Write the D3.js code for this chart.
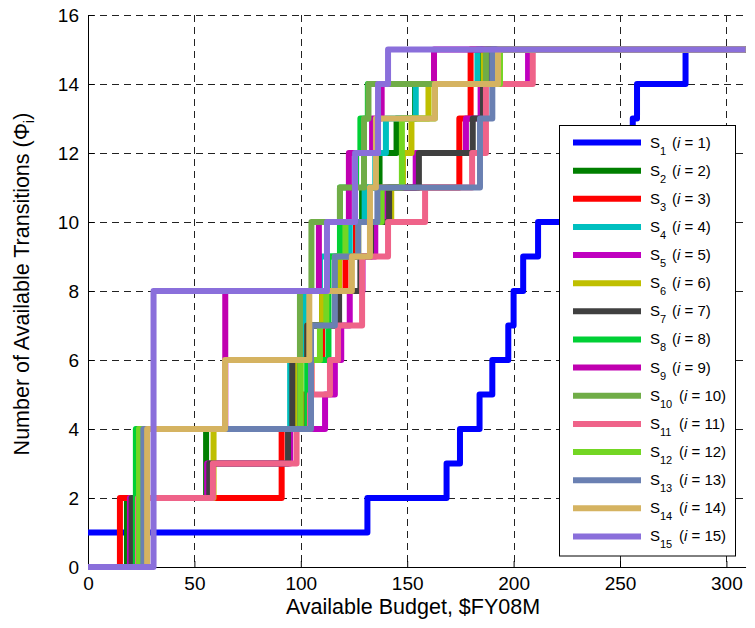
<!DOCTYPE html>
<html><head><meta charset="utf-8">
<script src="https://cdn.jsdelivr.net/npm/d3@7"></script>
<style>
body{margin:0;background:#fff}
svg{display:block}
text{font-family:Arial,"Liberation Sans",sans-serif;fill:#000}
</style>
</head><body>
<svg id="chart" width="755" height="628"></svg>
<script>
// ---- data ----
const xTicks = [0, 50, 100, 150, 200, 250, 300];
const yTicks = [0, 2, 4, 6, 8, 10, 12, 14, 16];
const xMax = 309;
const seriesIndex = [1,2,3,4,5,6,7,8,9,10,11,12,13,14,15];
const seriesColors = ["#0000ff","#007f00","#ff0000","#00bfbf","#bf00bf","#bfbf00","#404040",
  "#00d035","#c000b0","#70ad47","#ef6389","#73d623","#6a80b2","#d5b361","#8a6fdb"];
// step start points [budget, transitions]
const S1  = [[0,1],[131.3,2],[168.5,3],[174.8,4],[184,5],[190,6],[197.5,7],[200,8],[204.5,9],[211.5,10],[232,11],[245,12],[256,13],[258,14],[280.8,15]];
const S2  = [[0,0],[18.3,2],[55.5,4],[98,6],[104,7],[110,8],[117,9],[126,10],[128.8,11],[137,12],[145,13],[153.7,14],[185,15]];
const S3  = [[0,0],[15,2],[91,4],[101,5],[105,6],[110,7],[117,8],[121,9],[126,10],[137,11],[174.5,13],[179.8,15]];
const S4  = [[0,0],[23,4],[95,6],[102,8],[109,9],[123,10],[130,11],[135,12],[140,13],[154,14],[183,15]];
const S5  = [[0,0],[19.7,2],[56,3],[95,4],[111.4,5],[116,6],[119,7],[123,8],[129,9],[135,10],[140,11],[154,12],[177.6,13],[184.5,14],[206.8,15]];
const S6  = [[0,0],[21,2],[59,4],[97,6],[103,7],[110,8],[118,9],[127,10],[142.5,11],[148,12],[152,13],[160,14],[186,15]];
const S7  = [[0,0],[20.5,2],[57,3],[94,4],[96,6],[103,7],[118,8],[128,9],[133,10],[141.5,11],[155.5,12],[180.8,13],[185.6,14],[187.5,15]];
const S8  = [[0,0],[22.5,4],[103,6],[113,9],[118.4,11],[126,12],[128,13],[131.5,14],[193,15]];
const S9  = [[0,0],[24.5,4],[64.5,8],[108.5,10],[122.6,12],[133.5,13],[138,14],[162.6,15]];
const S10 = [[0,0],[24,4],[99.6,8],[105,10],[118.4,11],[129.7,13],[131.8,14],[187,15]];
const S11 = [[0,0],[23.5,2],[58.7,3],[98,4],[104.3,5],[113.7,6],[117.5,7],[128.8,9],[141,10],[158.4,11],[180.5,12],[187,14],[209,15]];
const S12 = [[0,0],[24,4],[100,6],[109,7],[112,8],[116,9],[121,10],[138,11],[147.5,13],[163,14],[193.6,15]];
const S13 = [[0,0],[26,4],[104.8,7],[116,9],[127,10],[136,11],[184.2,13],[190,15]];
const S14 = [[0,0],[27.8,4],[64.4,6],[104,8],[124,9],[132.5,11],[135.3,13],[163,14],[192.7,15]];
const S15 = [[0,0],[30.8,8],[112.3,10],[125.5,12],[136.3,14],[141,15]];
const seriesSteps = [S1,S2,S3,S4,S5,S6,S7,S8,S9,S10,S11,S12,S13,S14,S15];

// ---- layout ----
const L = 88, T = 15, B = 567;
const svg = d3.select("#chart");
const x = d3.scaleLinear().domain([0, xMax]).range([L, L + xMax * 2.128]);
const y = d3.scaleLinear().domain([0, 16]).range([B, T]);
const R = x(xMax);

// grid
const grid = svg.append("g").attr("stroke", "#222").attr("stroke-width", 1).attr("stroke-dasharray", "7,5");
grid.selectAll(".gx").data(xTicks.filter(d => d > 0)).join("line")
  .attr("x1", d => Math.round(x(d)) + 0.5).attr("x2", d => Math.round(x(d)) + 0.5)
  .attr("y1", T).attr("y2", B);
grid.selectAll(".gy").data(yTicks.filter(d => d > 0)).join("line")
  .attr("y1", d => Math.round(y(d)) + 0.5).attr("y2", d => Math.round(y(d)) + 0.5)
  .attr("x1", L).attr("x2", R);

// axes
const xAxis = d3.axisBottom(x).tickValues(xTicks).tickSizeInner(-6).tickSizeOuter(0).tickPadding(10);
const yAxis = d3.axisLeft(y).tickValues(yTicks).tickSizeInner(-6).tickSizeOuter(0).tickPadding(9);
const gx = svg.append("g").attr("transform", `translate(0,${B})`).call(xAxis);
const gy = svg.append("g").attr("transform", `translate(${L},0)`).call(yAxis);
[gx, gy].forEach(g => {
  g.select(".domain").attr("stroke", "#000").attr("stroke-width", 1);
  g.selectAll(".tick line").attr("stroke", "#000");
  g.selectAll(".tick text").style("font-size", "19px").attr("fill", "#000")
    .style("font-family", "Arial, 'Liberation Sans', sans-serif");
});

// axis titles
svg.append("text").attr("x", 413).attr("y", 614).attr("text-anchor", "middle")
  .style("font-size", "21.5px").text("Available Budget, $FY08M");
const yl = svg.append("text").attr("transform", "translate(29,284) rotate(-90)")
  .attr("text-anchor", "middle").style("font-size", "21.5px");
yl.append("tspan").text("Number of Available Transitions (Φ");
yl.append("tspan").attr("dy", 5).style("font-size", "15px").text("i");
yl.append("tspan").attr("dy", -5).text(")");

// series
const line = d3.line().x(d => x(d[0])).y(d => y(d[1])).curve(d3.curveStepAfter);
seriesSteps.forEach((s, i) => {
  const pts = s.concat([[xMax, s[s.length - 1][1]]]);
  svg.append("path").attr("d", line(pts)).attr("fill", "none")
    .attr("stroke", seriesColors[i]).attr("stroke-width", 6)
    .attr("stroke-linejoin", "round").attr("stroke-linecap", "butt");
});

// legend
const lg = svg.append("g");
lg.append("rect").attr("x", 559.5).attr("y", 125.5).attr("width", 176).attr("height", 430.5)
  .attr("fill", "#fff").attr("stroke", "#000").attr("stroke-width", 1);
seriesIndex.forEach((n, i) => {
  const cy = 142.5 + i * 28.14;
  lg.append("line").attr("x1", 573).attr("x2", 641).attr("y1", cy).attr("y2", cy)
    .attr("stroke", seriesColors[i]).attr("stroke-width", 6);
  lg.append("text").attr("x", 650).attr("y", cy + 5).style("font-size", "15px").text("S");
  lg.append("text").attr("x", 660).attr("y", cy + 12).style("font-size", "11px").text(n);
  const t = lg.append("text").attr("x", n < 10 ? 672 : 679).attr("y", cy + 5).style("font-size", "15px");
  t.append("tspan").text("(");
  t.append("tspan").style("font-style", "italic").text("i");
  t.append("tspan").text(" = " + n + ")");
});
</script>
</body></html>
